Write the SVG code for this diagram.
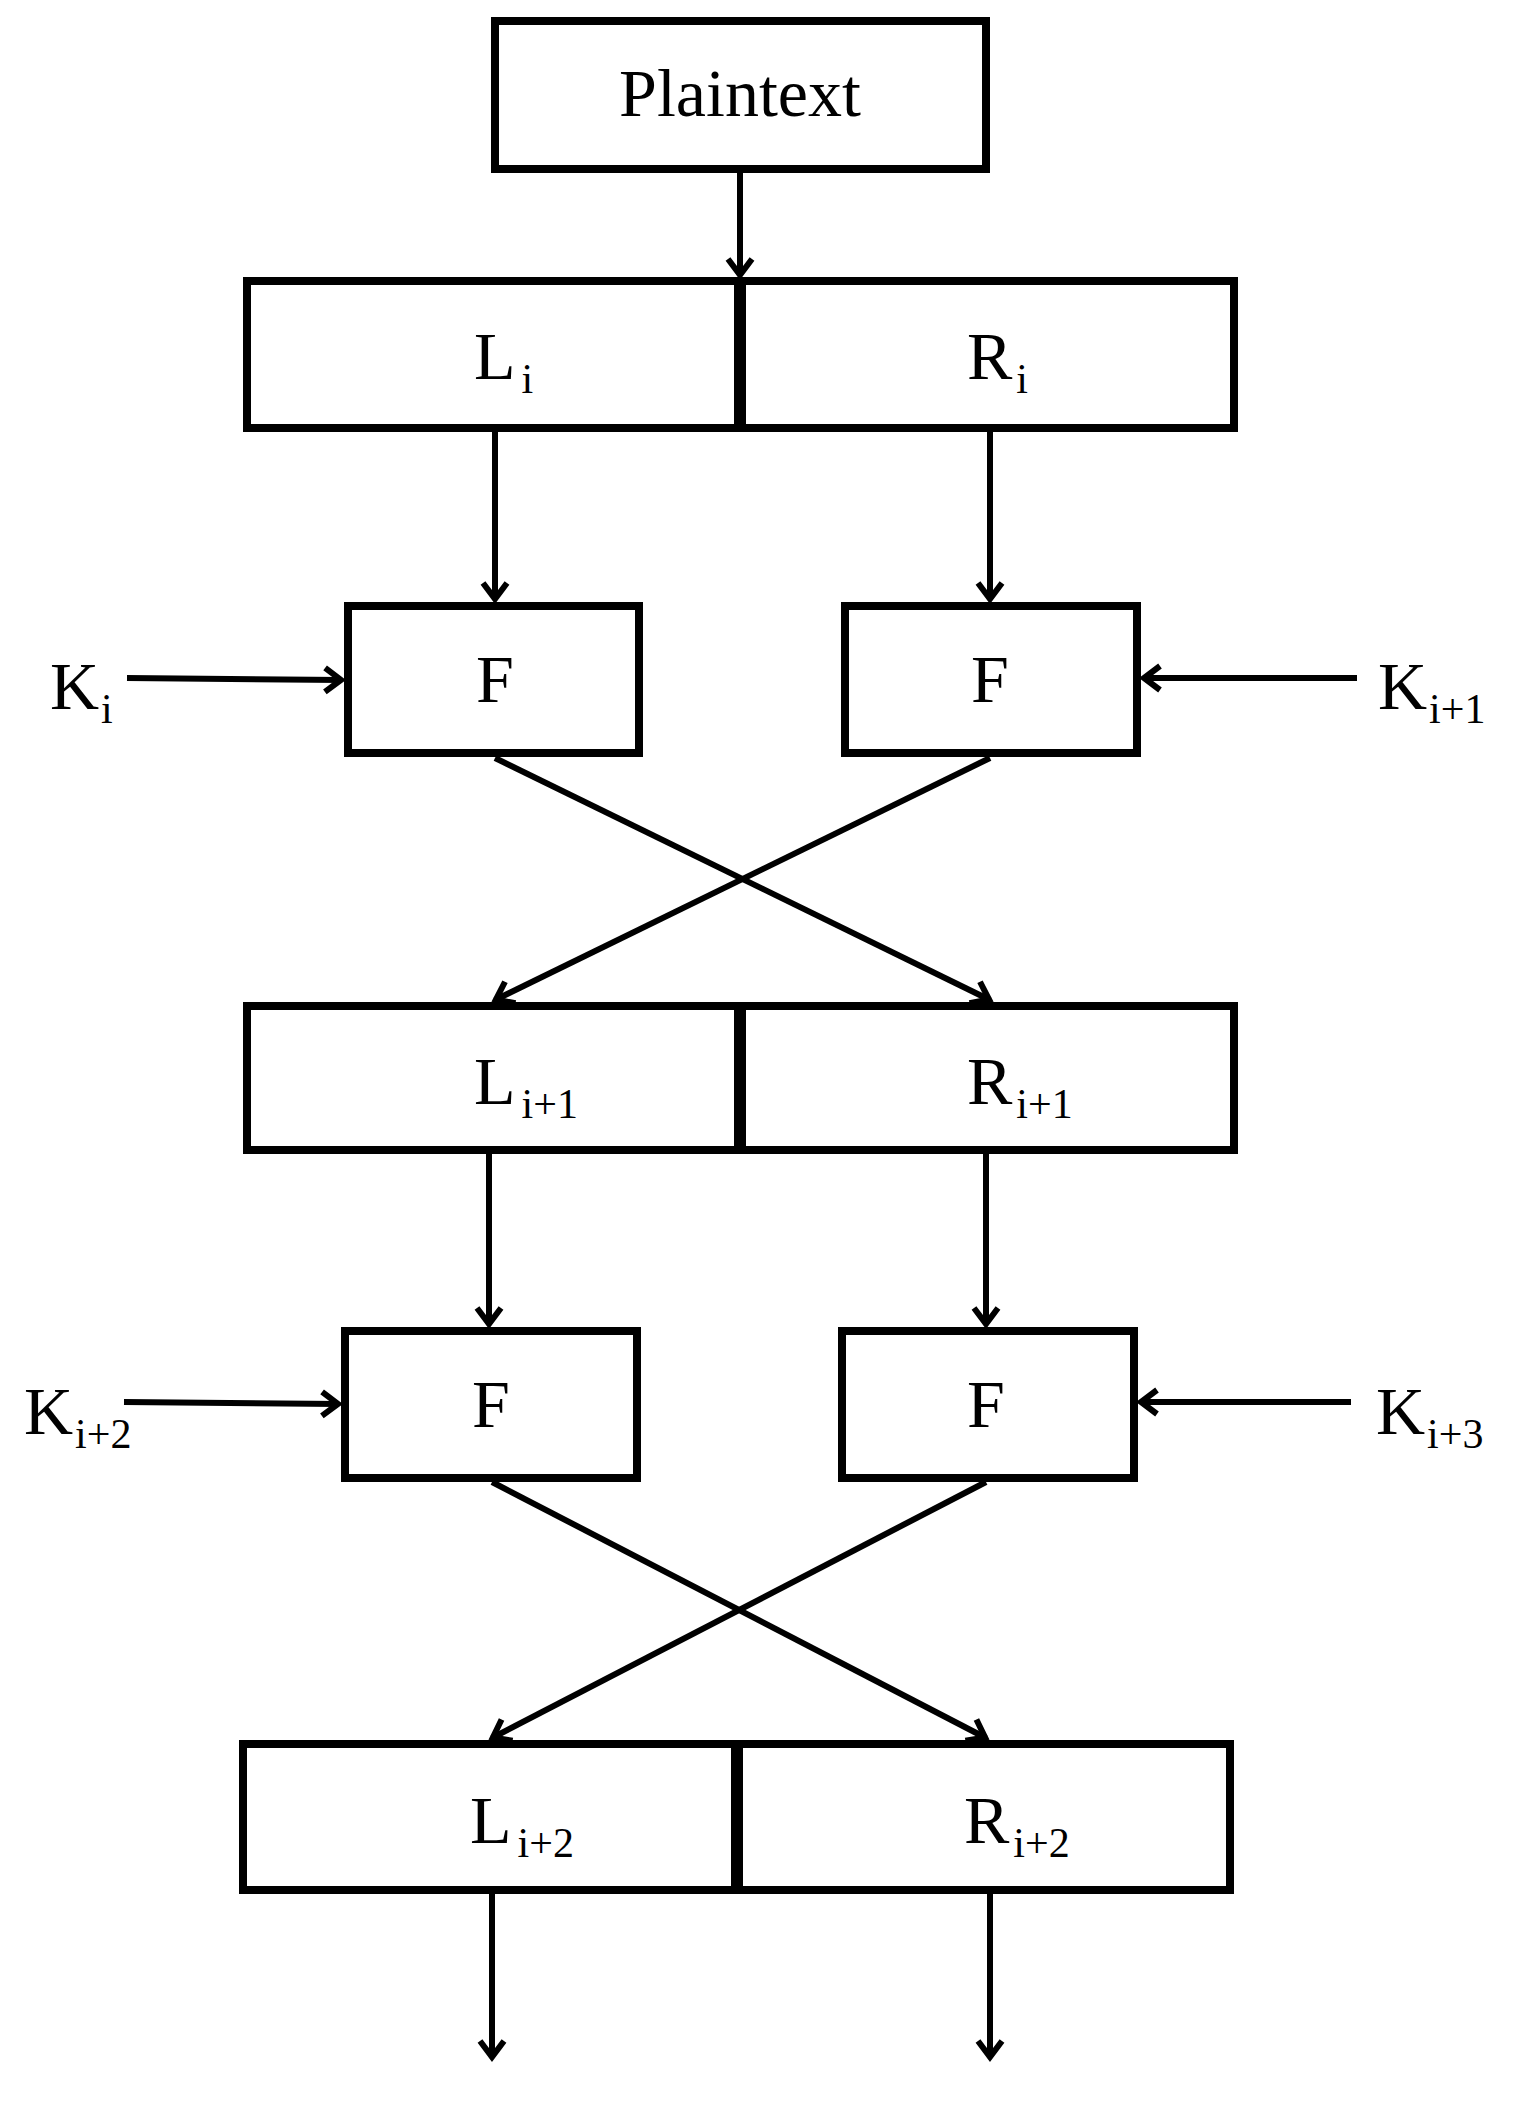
<svg xmlns="http://www.w3.org/2000/svg" width="1518" height="2105" viewBox="0 0 1518 2105">
<style>
.b{fill:#fff;stroke:#000;stroke-width:8}
.d{stroke:#000;stroke-width:12}
.c{stroke:#000;stroke-width:6;fill:none}
.t{font-family:"Liberation Serif","DejaVu Serif",serif;font-size:68px;fill:#000}
.s{font-size:42px}
</style>
<defs>
<marker id="a" markerUnits="userSpaceOnUse" markerWidth="44" markerHeight="44" refX="22" refY="22" orient="auto">
<polyline points="5,10 21,22 5,34" fill="none" stroke="#000" stroke-width="6"/>
</marker>
</defs>
<rect width="1518" height="2105" fill="#fff"/>
<g id="plaintext"><rect class="b" x="495" y="21" width="491" height="148"/><text class="t" x="740" y="116" text-anchor="middle">Plaintext</text></g>
<g id="row1"><rect class="b" x="247" y="281" width="987" height="147"/><line class="d" x1="740" y1="281" x2="740" y2="428"/>
<text class="t" x="474" y="379">L<tspan class="s" dx="6" dy="14">i</tspan></text>
<text class="t" x="967" y="379">R<tspan class="s" dx="4" dy="14">i</tspan></text></g>
<g id="f1"><rect class="b" x="348" y="606" width="291" height="147"/><text class="t" x="495" y="702" text-anchor="middle">F</text></g>
<g id="f2"><rect class="b" x="845" y="606" width="292" height="147"/><text class="t" x="990" y="702" text-anchor="middle">F</text></g>
<g id="k1"><text class="t" x="50" y="709">K<tspan class="s" dx="2" dy="14">i</tspan></text></g>
<g id="k2"><text class="t" x="1378" y="709">K<tspan class="s" dx="2" dy="14">i+1</tspan></text></g>
<g id="row2"><rect class="b" x="247" y="1006" width="987" height="144"/><line class="d" x1="740" y1="1006" x2="740" y2="1150"/>
<text class="t" x="474" y="1104">L<tspan class="s" dx="6" dy="14">i+1</tspan></text>
<text class="t" x="967" y="1104">R<tspan class="s" dx="4" dy="14">i+1</tspan></text></g>
<g id="f3"><rect class="b" x="345" y="1331" width="292" height="147"/><text class="t" x="491" y="1427" text-anchor="middle">F</text></g>
<g id="f4"><rect class="b" x="842" y="1331" width="292" height="147"/><text class="t" x="986" y="1427" text-anchor="middle">F</text></g>
<g id="k3"><text class="t" x="24" y="1434">K<tspan class="s" dx="2" dy="14">i+2</tspan></text></g>
<g id="k4"><text class="t" x="1376" y="1434">K<tspan class="s" dx="2" dy="14">i+3</tspan></text></g>
<g id="row3"><rect class="b" x="243" y="1744" width="987" height="146"/><line class="d" x1="737" y1="1744" x2="737" y2="1890"/>
<text class="t" x="470" y="1843">L<tspan class="s" dx="6" dy="14">i+2</tspan></text>
<text class="t" x="964" y="1843">R<tspan class="s" dx="4" dy="14">i+2</tspan></text></g>
<g id="connectors">
<line class="c" x1="740" y1="172" x2="740" y2="276" marker-end="url(#a)"/>
<line class="c" x1="495" y1="431" x2="495" y2="600" marker-end="url(#a)"/>
<line class="c" x1="990" y1="431" x2="990" y2="600" marker-end="url(#a)"/>
<line class="c" x1="127" y1="678" x2="342" y2="680" marker-end="url(#a)"/>
<line class="c" x1="1357" y1="678" x2="1143" y2="678" marker-end="url(#a)"/>
<line class="c" x1="495" y1="758" x2="990" y2="1000" marker-end="url(#a)"/>
<line class="c" x1="990" y1="758" x2="495" y2="1000" marker-end="url(#a)"/>
<line class="c" x1="489" y1="1153" x2="489" y2="1325" marker-end="url(#a)"/>
<line class="c" x1="986" y1="1153" x2="986" y2="1325" marker-end="url(#a)"/>
<line class="c" x1="124" y1="1402" x2="339" y2="1404" marker-end="url(#a)"/>
<line class="c" x1="1351" y1="1402" x2="1140" y2="1402" marker-end="url(#a)"/>
<line class="c" x1="492" y1="1482" x2="986" y2="1738" marker-end="url(#a)"/>
<line class="c" x1="986" y1="1482" x2="492" y2="1738" marker-end="url(#a)"/>
<line class="c" x1="492" y1="1894" x2="492" y2="2058" marker-end="url(#a)"/>
<line class="c" x1="990" y1="1894" x2="990" y2="2058" marker-end="url(#a)"/>
</g>
</svg>
